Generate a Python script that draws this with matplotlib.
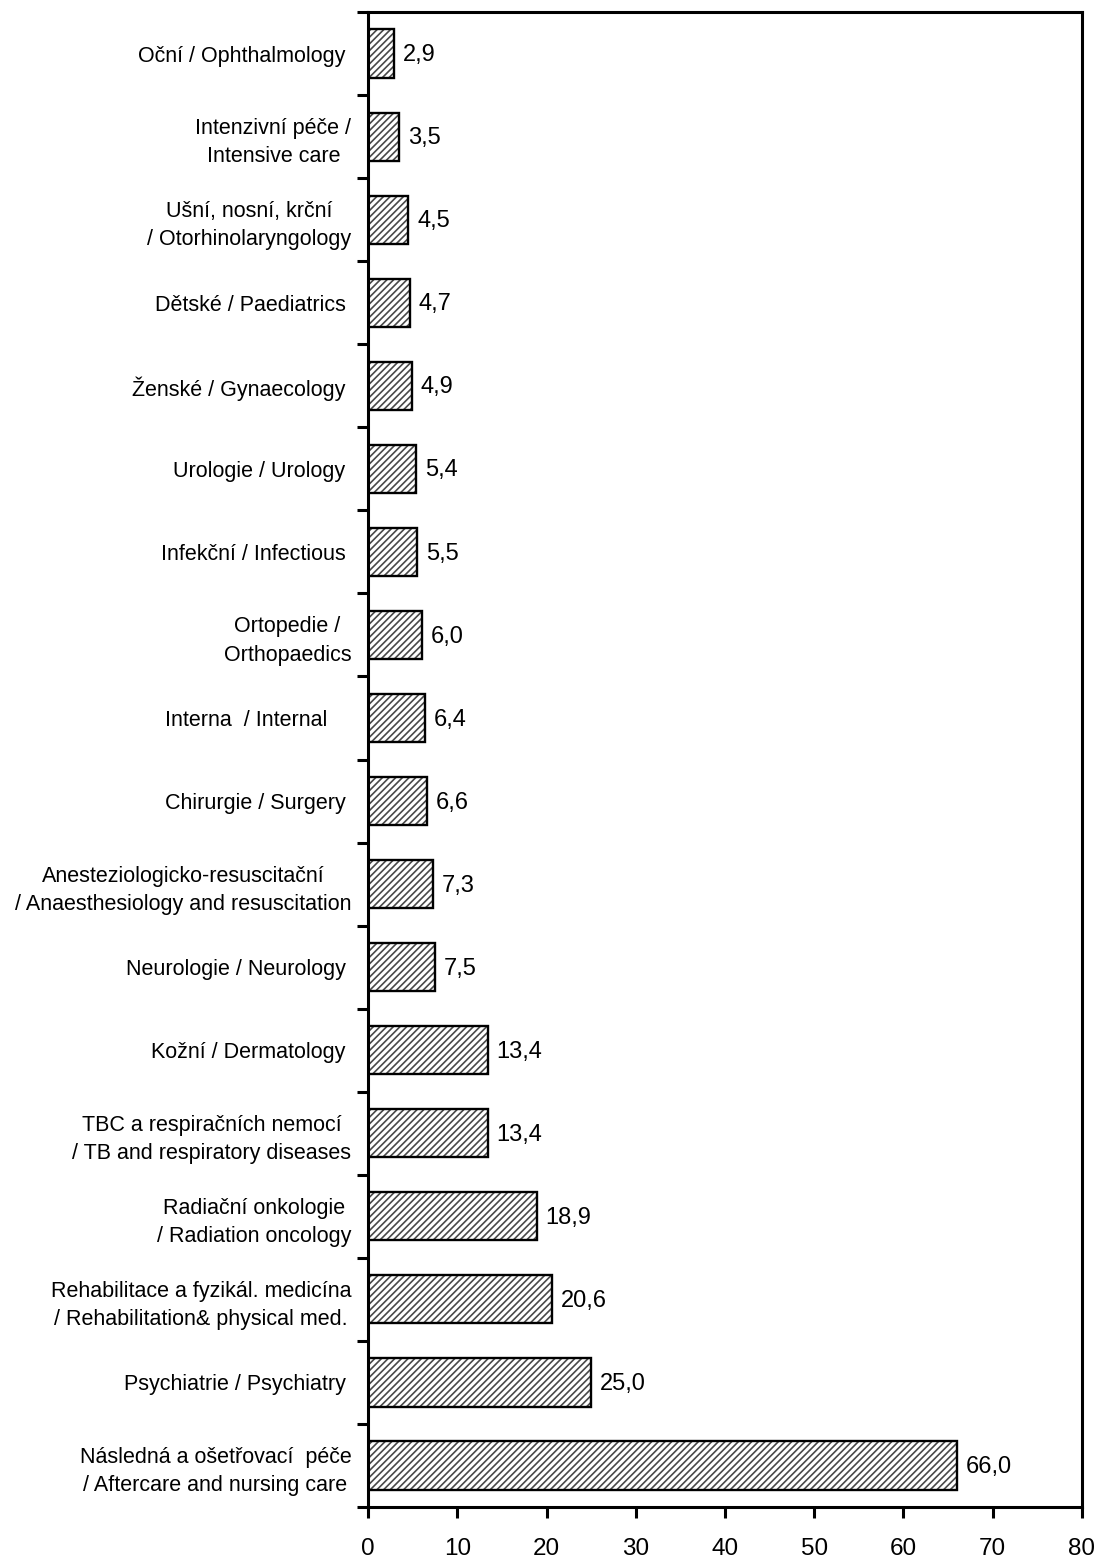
import matplotlib
matplotlib.use("Agg")
import matplotlib.pyplot as plt

plt.rcParams['font.family'] = ['Liberation Sans', 'DejaVu Sans']
plt.rcParams['hatch.linewidth'] = 1.2

# categories from top to bottom
categories = [
    "Oční / Ophthalmology ",
    "Intenzivní péče /\nIntensive care",
    "Ušní, nosní, krční\n/ Otorhinolaryngology",
    "Dětské / Paediatrics ",
    "Ženské / Gynaecology ",
    "Urologie / Urology ",
    "Infekční / Infectious ",
    "Ortopedie /\nOrthopaedics",
    "Interna  / Internal    ",
    "Chirurgie / Surgery ",
    "Anesteziologicko-resuscitační\n/ Anaesthesiology and resuscitation",
    "Neurologie / Neurology ",
    "Kožní / Dermatology ",
    "TBC a respiračních nemocí\n/ TB and respiratory diseases",
    "Radiační onkologie\n/ Radiation oncology",
    "Rehabilitace a fyzikál. medicína\n/ Rehabilitation& physical med.",
    "Psychiatrie / Psychiatry ",
    "Následná a ošetřovací  péče\n/ Aftercare and nursing care",
]
values = [2.9, 3.5, 4.5, 4.7, 4.9, 5.4, 5.5, 6.0, 6.4, 6.6, 7.3, 7.5,
          13.4, 13.4, 18.9, 20.6, 25.0, 66.0]
xticks = [0, 10, 20, 30, 40, 50, 60, 70, 80]

fig = plt.figure(figsize=(10.98, 15.62), dpi=100)
ax = fig.add_axes([0.3352, 0.0352, 0.6502, 0.9571])

pos = list(range(len(values)))
# hatched fill, then a black outline on top
ax.barh(pos, values, height=0.58, color='white', edgecolor='#484848',
        hatch='/////', linewidth=0)
ax.barh(pos, values, height=0.58, color='none', edgecolor='black',
        linewidth=1.7)

for p, v in zip(pos, values):
    ax.text(v + 1.0, p + 0.02, f"{v:.1f}".replace('.', ','), va='center',
            ha='left', fontsize=17)

ax.set_xlim(0, 80)
ax.set_ylim(len(values) - 0.5, -0.5)
ax.set_xticks(xticks)
ax.set_xticklabels([str(t) for t in xticks], fontsize=17.5)

# ticks at category boundaries, labels at centres
ax.set_yticks([i - 0.5 for i in range(len(values) + 1)])
ax.set_yticklabels([])
ax.set_yticks(pos, minor=True)
ax.set_yticklabels(categories, minor=True, fontsize=15.5, multialignment='center',
                   linespacing=1.45)
ax.tick_params(axis='y', which='minor', length=0, pad=12)
ax.tick_params(axis='both', which='major', length=8, width=2.2, direction='out')
ax.tick_params(axis='x', pad=14)

for s in ax.spines.values():
    s.set_linewidth(2.2)

fig.savefig("out.png", dpi=100)
